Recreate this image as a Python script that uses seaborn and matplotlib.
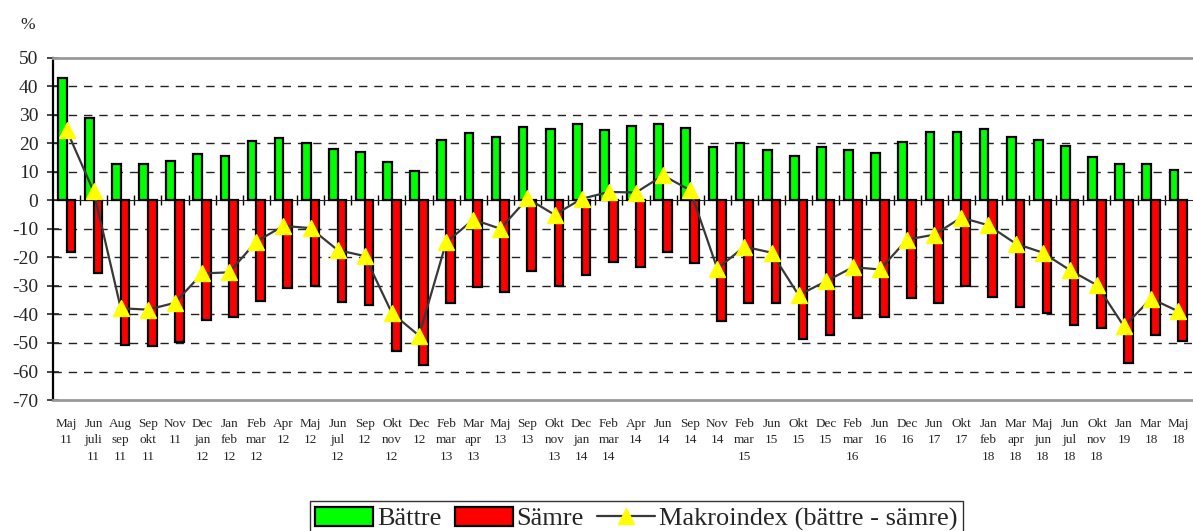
import numpy as np
import pandas as pd
import matplotlib
matplotlib.use("Agg")
import matplotlib.pyplot as plt
import seaborn as sns
from matplotlib.patches import Patch
from matplotlib.lines import Line2D

# survey periods (tick labels, stacked on several lines)
periods = [
    "Maj\n11", "Jun\njuli\n11", "Aug\nsep\n11", "Sep\nokt\n11", "Nov\n11",
    "Dec\njan\n12", "Jan\nfeb\n12", "Feb\nmar\n12", "Apr\n12", "Maj\n12",
    "Jun\njul\n12", "Sep\n12", "Okt\nnov\n12", "Dec\n12", "Feb\nmar\n13",
    "Mar\napr\n13", "Maj\n13", "Sep\n13", "Okt\nnov\n13", "Dec\njan\n14",
    "Feb\nmar\n14", "Apr\n14", "Jun\n14", "Sep\n14", "Nov\n14",
    "Feb\nmar\n15", "Jun\n15", "Okt\n15", "Dec\n15", "Feb\nmar\n16",
    "Jun\n16", "Dec\n16", "Jun\n17", "Okt\n17", "Jan\nfeb\n18",
    "Mar\napr\n18", "Maj\njun\n18", "Jun\njul\n18", "Okt\nnov\n18", "Jan\n19",
    "Mar\n18", "Maj\n18",
]

battre = [43.0, 29.0, 12.9, 12.9, 13.8, 16.3, 15.6, 20.7, 21.9, 20.2, 18.1, 17.1,
          13.5, 10.5, 21.3, 23.7, 22.3, 25.7, 25.1, 27.0, 24.9, 26.3, 26.9, 25.6,
          18.6, 20.0, 17.8, 15.6, 18.7, 17.8, 16.7, 20.5, 24.1, 24.1, 25.1, 22.2,
          21.3, 19.2, 15.2, 12.7, 12.7, 10.7]

samre = [-17.9, -25.6, -50.7, -51.2, -49.7, -41.9, -40.8, -35.1, -30.8, -29.9, -35.5, -36.6,
         -52.8, -57.8, -35.9, -30.2, -32.0, -24.9, -29.9, -26.2, -21.6, -23.3, -18.0, -21.9,
         -42.4, -36.0, -35.9, -48.7, -47.1, -41.3, -40.9, -34.2, -35.9, -30.1, -33.7, -37.2,
         -39.4, -43.6, -44.8, -57.0, -47.1, -49.4]

makroindex = [24.8, 3.2, -37.8, -38.3, -35.9, -25.6, -25.2, -14.4, -8.9, -9.7, -17.4, -19.5,
              -39.5, -47.4, -14.7, -6.7, -9.9, 0.7, -5.0, 0.6, 3.0, 2.8, 8.8, 3.6,
              -23.9, -16.2, -18.3, -33.2, -28.4, -23.4, -24.2, -13.7, -12.0, -6.0, -8.7, -15.1,
              -18.3, -24.4, -29.7, -44.2, -34.4, -38.9]

series = ["Bättre", "Sämre"]
colors = {"Bättre": "#00ff00", "Sämre": "#ff0000"}

df = pd.DataFrame({
    "period": periods * 2,
    "serie": ["Bättre"] * len(periods) + ["Sämre"] * len(periods),
    "value": battre + samre,
})

sns.set_style("white")
plt.rcParams["font.family"] = ["Liberation Serif", "DejaVu Serif"]
plt.rcParams["axes.unicode_minus"] = False

fig = plt.figure(figsize=(11.93, 5.31), dpi=100)
ax = fig.add_axes([0.0444, 0.2467, 0.9546, 0.6441])

sns.barplot(data=df, x="period", y="value", hue="serie", order=periods,
            hue_order=series, palette=colors, width=0.64, gap=0,
            edgecolor="black", linewidth=1.6, saturation=1, legend=False, ax=ax)

x = np.arange(len(periods))
ax.plot(x, makroindex, color="#383838", lw=1.6, zorder=4)
ax.plot(x, makroindex, ls="none", marker="^", ms=11, mfc="#ffff00",
        mec="#ffff00", zorder=5)

ax.set_xlim(-0.5, len(periods) - 0.5)
ax.set_ylim(-70, 50)
ax.set_yticks(range(-70, 51, 10))
ax.set_ylabel("")
ax.set_xlabel("")

# dashed gridlines, solid grey top/bottom
for v in range(-60, 50, 10):
    if v != 0:
        ax.axhline(v, color="#222222", lw=1.0, ls=(0, (6, 5)), zorder=0)

for side in ["top", "bottom"]:
    ax.spines[side].set_color("#999999")
    ax.spines[side].set_linewidth(2)
ax.spines["right"].set_visible(False)
ax.spines["left"].set_color("black")
ax.spines["left"].set_linewidth(1.6)

ax.tick_params(axis="y", direction="inout", length=9, width=1.2,
               labelsize=14, pad=6, left=True)
ax.tick_params(axis="x", length=0, labelsize=9.5, pad=13)
ax.set_xticks(x)
ax.set_xticklabels(periods, linespacing=1.48, va="top")

# zero axis with category separators
zero = ax.secondary_xaxis(70 / 120)
zero.set_xticks(np.arange(len(periods) - 1) + 0.5)
zero.set_xticklabels([])
zero.tick_params(direction="inout", length=7, width=1.0, color="black")
zero.spines["bottom"].set_color("black")
zero.spines["bottom"].set_linewidth(1.4)

fig.text(0.0235, 0.952, "%", fontsize=12.5, ha="center", va="center")

handles = [
    Patch(facecolor=colors["Bättre"], edgecolor="black", lw=1.6),
    Patch(facecolor=colors["Sämre"], edgecolor="black", lw=1.6),
    Line2D([], [], color="#383838", lw=1.6, marker="^", ms=12,
           mfc="#ffff00", mec="#ffff00"),
]
leg = fig.legend(handles, ["Bättre", "Sämre", "Makroindex (bättre - sämre)"],
                 loc="upper center", bbox_to_anchor=(0.5335, 0.056), ncol=3,
                 frameon=True, fancybox=False, edgecolor="black", fontsize=19,
                 handlelength=2.2, handleheight=0.75, handletextpad=0.15,
                 columnspacing=0.5, borderpad=0.2, borderaxespad=0)
leg.get_frame().set_linewidth(1.0)

fig.savefig("out.png", dpi=100)
